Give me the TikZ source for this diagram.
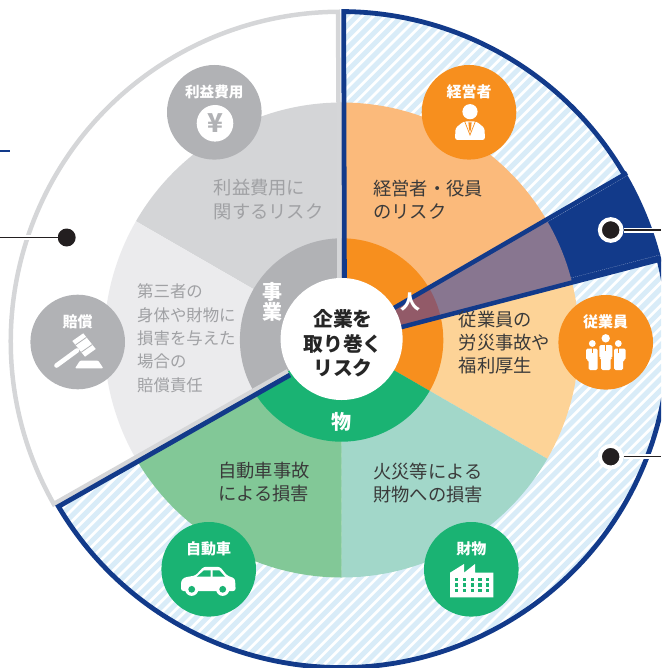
\documentclass[tikz,border=0pt]{standalone}
\usepackage{fontspec}
\setmainfont{Noto Sans CJK JP}
\usepackage{xcolor}
\usetikzlibrary{positioning}
\definecolor{linkblue}{HTML}{123A8A}
\definecolor{hatchblue}{HTML}{D9ECF8}
\definecolor{ringorange}{HTML}{F78F1E}
\definecolor{ringgreen}{HTML}{1AB373}
\definecolor{ringgray}{HTML}{B1B2B5}
\definecolor{execpeach}{HTML}{FBBA7B}
\definecolor{staffpeach}{HTML}{FDD397}
\definecolor{assetmint}{HTML}{A2D7C9}
\definecolor{carmint}{HTML}{82C897}
\definecolor{profitgray}{HTML}{D4D5D7}
\definecolor{claimgray}{HTML}{EBEBED}
\definecolor{edgegray}{HTML}{D5D6D8}
\definecolor{wedgered}{HTML}{925A68}
\definecolor{wedgepurple}{HTML}{887690}
\definecolor{dotblack}{HTML}{231F20}
\definecolor{inktext}{HTML}{3A3A3A}
\definecolor{fadetext}{HTML}{A0A1A4}
\tikzset{
    riskdark/.style={inner sep=0pt, anchor=west, align=left, text=inktext, font=\fontsize{18.3}{23}\selectfont},
    riskfade/.style={inner sep=0pt, anchor=west, align=left, text=fadetext, font=\fontsize{18.3}{23.3}\selectfont},
    ringlabel/.style={inner sep=0pt, text=white, font=\bfseries\fontsize{20}{20}\selectfont, align=center},
    badge/.style={circle, inner sep=0pt, minimum size=94.6pt},
    badgetitle/.style={inner sep=0pt, text=white, font=\bfseries\fontsize{15}{16}\selectfont},
    bluedot/.style={circle, fill=dotblack, draw=white, line width=4pt, inner sep=0pt, minimum size=21.7pt},
    halo/.style={white, line width=5pt},
    wire/.style={dotblack, line width=1.4pt},
    iconfill/.style={fill=white},
}
\newcommand{\sector}[4]{\fill[#1] (hub) -- ++(#2:#4) arc[start angle=#2, end angle=#3, radius=#4] -- cycle;}
\begin{document}
\begin{tikzpicture}[x=1pt, y=1pt]
    \clip (0,-668) rectangle (661,0);
    \coordinate (hub) at (341.6,-340);
    \coordinate (rim) at (341.6,-338.7);

    % hatched band and outer corners
    \coordinate (bluetop) at (344.4,-11);
    \coordinate (blueleft) at (58.5,-506.5);
    \begin{scope}
        \clip (344.4,-347) -- (bluetop) arc[start angle=89.5, end angle=-149.4, radius=328] -- cycle;
        \foreach \sx in {0,11.3,...,1350}
            \draw[hatchblue, line width=5pt] (\sx-680,-680) -- (\sx,0);
    \end{scope}

    % middle ring
    \sector{execpeach}{90}{30}{237.5}
    \sector{staffpeach}{30}{-30}{237.5}
    \sector{assetmint}{-30}{-90}{237.5}
    \sector{carmint}{-90}{-150}{237.5}
    \sector{profitgray}{90}{150}{237.5}
    \sector{claimgray}{150}{210}{237.5}

    % inner ring
    \sector{ringorange}{90}{-30}{101.7}
    \sector{ringgreen}{-30}{-150}{101.7}
    \sector{ringgray}{90}{210}{101.7}

    % grey outline
    \draw[edgegray, line width=4.5pt] (287.8,-371.2) -- (53.8,-504) arc[start angle=209.6, end angle=90.4, radius=329.5] -- (339.5,-280);

    % wedge between the two blue spokes
    \coordinate (wedgeUa) at (380.3,-315.9);
    \coordinate (wedgeUb) at (627,-173);
    \coordinate (wedgeLa) at (390.3,-330);
    \coordinate (wedgeLb) at (661,-259.3);
    \begin{scope}
        \clip (wedgeUa) -- (wedgeUb) -- (700,-173) -- (700,-259.3) -- (wedgeLb) -- (wedgeLa) -- cycle;
        \fill[linkblue] (rim) circle[radius=328];
        \fill[wedgepurple] (hub) circle[radius=237.5];
        \fill[wedgered] (hub) circle[radius=101.7];
    \end{scope}

    % blue outline
    \draw[linkblue, line width=4.8pt] (290,-375) -- (blueleft) arc[start angle=-149.4, end angle=89.5, radius=328] -- (344.4,-280);
    \draw[linkblue, line width=4.5pt] (wedgeUa) -- (wedgeUb);
    \draw[linkblue, line width=4.5pt] (wedgeLa) -- (wedgeLb);
    \draw[white!55!linkblue, line width=0.3pt, dash pattern=on 1pt off 1pt] (547.7,-221.9) -- (628,-175);
    \draw[white!55!linkblue, line width=0.3pt, dash pattern=on 1pt off 1pt] (571,-278) -- (661,-254.6);

    % centre
    \node[circle, fill=white, inner sep=0pt, minimum size=122pt] (centre) at (341.6,-339) {};
    \node[inner sep=0pt, align=center, text=black!85, font=\bfseries\fontsize{19.8}{24.4}\selectfont] (centretext) at (343,-343.3) {企業を\\取り巻く\\リスク};
    \node[ringlabel] (ringbiz) at (272.3,-302.3) {事\\業};
    \node[ringlabel] (ringman) at (410,-301.7) {人};
    \node[ringlabel] (ringgoods) at (341,-421.7) {物};

    % sector texts
    \node[riskdark] (execrisk) at (373,-199.5) {経営者・役員\\のリスク};
    \node[riskdark] (staffrisk) at (458.5,-342.7) {従業員の\\労災事故や\\福利厚生};
    \node[riskdark] (assetrisk) at (373,-482.7) {火災等による\\財物への損害};
    \node[riskdark] (carrisk) at (218,-482.5) {自動車事故\\による損害};
    \node[riskfade] (profitrisk) at (213.5,-199.5) {利益費用に\\関するリスク};
    \node[riskfade, font=\fontsize{16.4}{23.3}\selectfont] (claimrisk) at (137,-338.3) {第三者の\\身体や財物に\\損害を与えた\\場合の\\賠償責任};

    % badges
    \node[badge, fill=ringorange] (execbadge) at (469,-112.3) {};
    \node[badge, fill=ringorange] (staffbadge) at (605.7,-342.3) {};
    \node[badge, fill=ringgreen] (assetbadge) at (471.3,-569.3) {};
    \node[badge, fill=ringgreen] (carbadge) at (208.7,-569.3) {};
    \node[badge, fill=ringgray] (claimbadge) at (77.7,-342) {};
    \node[badge, fill=ringgray] (profitbadge) at (214.3,-112.3) {};
    \node[badgetitle, above=0pt of execbadge.center, yshift=13.5pt] (exectitle) {経営者};
    \node[badgetitle, above=0pt of staffbadge.center, yshift=13.5pt] (stafftitle) {従業員};
    \node[badgetitle, above=0pt of assetbadge.center, yshift=13.5pt] (assettitle) {財物};
    \node[badgetitle, above=0pt of carbadge.center, yshift=13.5pt] (cartitle) {自動車};
    \node[badgetitle, above=0pt of claimbadge.center, yshift=12.5pt] (claimtitle) {賠償};
    \node[badgetitle, font=\bfseries\fontsize{14.6}{16}\selectfont, above=0pt of profitbadge.center, yshift=13.5pt] (profittitle) {利益費用};

    % yen
    \node[circle, fill=white, inner sep=0pt, minimum size=36.6pt, text=ringgray, font=\bfseries\fontsize{26}{26}\selectfont] (yencoin) at (215,-123.3) {¥};

    % person
    \fill[iconfill] (470,-111.7) circle[radius=7.6];
    \fill[iconfill, rounded corners=2.5pt] (455,-140) -- (455.5,-128) -- (463.5,-121.5) -- (476.5,-121.5) -- (484.5,-128) -- (485,-140) -- cycle;
    \draw[ringorange, line width=0.7pt] (464.5,-121) -- (470,-135) -- (475.5,-121);
    \fill[ringorange] (468.4,-122.5) -- (471.6,-122.5) -- (471,-129) -- (470,-132) -- (469,-129) -- cycle;

    % three people
    \fill[iconfill] (605.7,-338.3) circle[radius=4.2];
    \fill[iconfill] (592.3,-343.5) circle[radius=3.4];
    \fill[iconfill] (618.3,-343.5) circle[radius=3.4];
    \fill[iconfill, rounded corners=1.5pt] (599.3,-358) -- (599.3,-345) -- (612.3,-345) -- (612.3,-358) -- (610.5,-358) -- (610.5,-370) -- (601.2,-370) -- (601.2,-358) -- cycle;
    \fill[iconfill, rounded corners=1.5pt] (586,-360) -- (586,-348.5) -- (597.7,-348.5) -- (597.7,-370) -- (588.5,-370) -- (588.5,-360) -- cycle;
    \fill[iconfill, rounded corners=1.5pt] (614,-370) -- (614,-348.5) -- (625.7,-348.5) -- (625.7,-360) -- (623.2,-360) -- (623.2,-370) -- cycle;
    \draw[ringorange, line width=0.8pt] (605.7,-344.5) -- (605.7,-351);
    \draw[ringorange, line width=0.7pt] (592.3,-348) -- (592.3,-353);
    \draw[ringorange, line width=0.7pt] (618.3,-348) -- (618.3,-353);

    % gavel
    \draw[white, line width=4.6pt, line cap=round] (56.5,-365.5) -- (77,-350.5);
    \fill[iconfill] (72.3,-341) -- (83.3,-333.3) -- (95.7,-349) -- (85,-356.7) -- cycle;
    \draw[ringgray, line width=0.8pt] (75.5,-345) -- (86.5,-337.3);
    \draw[ringgray, line width=0.8pt] (81.3,-352.2) -- (92.3,-344.5);
    \fill[iconfill, rounded corners=1pt] (75,-368.3) -- (80,-360.7) -- (98.3,-360.7) -- (103.3,-368.3) -- cycle;

    % car
    \fill[iconfill, rounded corners=2.5pt] (181,-591) -- (181,-581) -- (184,-577.5) -- (195.5,-575.5) -- (203.5,-566.8) -- (220,-566.8) -- (227,-575.5) -- (235,-578.5) -- (235.7,-591) -- cycle;
    \fill[ringgreen] (196.7,-576.7) -- (204,-570.3) -- (210.7,-570.3) -- (210.7,-576.7) -- cycle;
    \fill[ringgreen] (212.7,-570.3) -- (219.3,-570.3) -- (225,-576.7) -- (212.7,-576.7) -- cycle;
    \fill[iconfill] (191.7,-589.3) circle[radius=6.6];
    \fill[iconfill] (222.7,-589.3) circle[radius=6.6];
    \fill[ringgreen] (191.7,-589.3) circle[radius=3.4];
    \fill[ringgreen] (222.7,-589.3) circle[radius=3.4];

    % factory
    \fill[iconfill] (450,-597.3) -- (450,-572.7) -- (464,-564) -- (464,-572.7) -- (475,-564) -- (475,-572.7) -- (493.3,-572.7) -- (493.3,-597.3) -- cycle;
    \foreach \wx in {456.7,464.3,472.3,480,487.7}
        \foreach \wy in {579.3,585,590.7}
            \fill[ringgreen] (\wx-1.6,-\wy-1.6) rectangle (\wx+1.6,-\wy+1.6);

    % pointers
    \coordinate (wedgeout) at (661,-230);
    \coordinate (bandout) at (661,-456.7);
    \coordinate (leftout) at (0,-237.5);
    \coordinate (tickfrom) at (0,-150.7);
    \coordinate (tickto) at (10,-150.7);
    \node[bluedot] (wedgedot) at (610.7,-230) {};
    \node[bluedot] (banddot) at (610.7,-456.7) {};
    \node[circle, fill=dotblack, inner sep=0pt, minimum size=18pt] (leftdot) at (66.7,-237.5) {};
    \draw[halo] (wedgedot) -- (wedgeout);
    \draw[wire] (wedgedot) -- (wedgeout);
    \draw[halo] (banddot) -- (bandout);
    \draw[wire] (banddot) -- (bandout);
    \draw[halo] (leftdot) -- (leftout);
    \draw[wire] (leftdot) -- (leftout);
    \draw[linkblue, line width=2pt] (tickfrom) -- (tickto);
\end{tikzpicture}
\end{document}
